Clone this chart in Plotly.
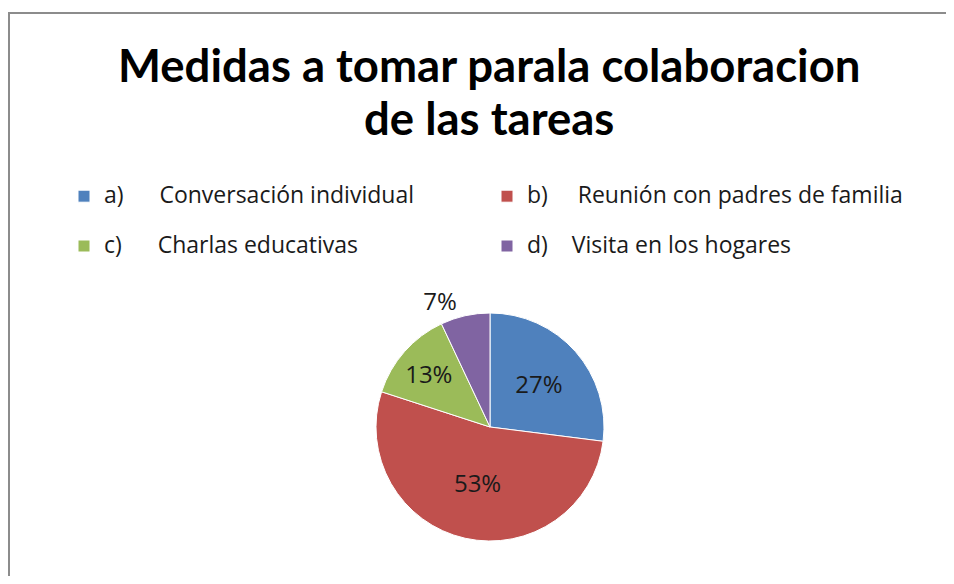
import plotly.graph_objects as go

# data
title_lines = ["Medidas a tomar parala colaboracion", "de las tareas"]
letters = ["a)", "b)", "c)", "d)"]
categories = ["Conversación individual", "Reunión con padres de familia",
              "Charlas educativas", "Visita en los hogares"]
percents = [27, 53, 13, 7]

colors = ["#4F81BD", "#C0504D", "#9BBB59", "#8064A2"]
gaps = [6, 5, 6, 4]  # tab-like spacing between letter and text

# the page body has an 8px margin, so the figure is a bit smaller than the window
OFF = 8
FW, FH = 946, 568
NB = "\u00a0"


def px(x):
    return (x - OFF) / FW


def py(y):
    return 1 - (y - OFF) / FH


labels = [f"<span style='font-size:23px'>{l}{NB * g}{c}</span><br> "
          for l, g, c in zip(letters, gaps, categories)]

# pie centre (490, 427), radius 114 px in window coordinates
cx, cy, r = 490, 427, 114

fig = go.Figure()
fig.add_trace(go.Pie(
    labels=labels,
    values=percents,
    sort=False,
    direction="clockwise",
    rotation=0,
    marker=dict(colors=colors, line=dict(color="white", width=1)),
    texttemplate="%{value}%",
    textposition=["inside", "inside", "inside", "outside"],
    insidetextfont=dict(color="#1a1a1a", size=24, family="Open Sans"),
    outsidetextfont=dict(color="#1a1a1a", size=24, family="Open Sans"),
    hoverinfo="skip",
    domain=dict(x=[px(cx - r), px(cx + r)], y=[py(cy + r), py(cy - r)]),
))

# title, one annotation per line so the line spacing matches
for i, line in enumerate(title_lines):
    fig.add_annotation(
        text=f"<b>{line}</b>",
        x=px(489), y=py(35 + 53 * i), xref="paper", yref="paper",
        xanchor="center", yanchor="top", showarrow=False,
        font=dict(family="Lato", size=45.5, color="black"),
    )

fig.add_shape(type="rect", xref="paper", yref="paper",
              x0=1 / FW, x1=1.05, y0=-0.05, y1=py(13),
              line=dict(color="#8C8C8C", width=2), fillcolor="rgba(0,0,0,0)")

fig.update_layout(
    width=FW, height=FH,
    margin=dict(l=0, r=0, t=0, b=0, autoexpand=False),
    paper_bgcolor="white",
    plot_bgcolor="white",
    showlegend=True,
    legend=dict(
        orientation="h",
        x=px(64), y=py(178), xanchor="left", yanchor="top",
        entrywidth=378, entrywidthmode="pixels",
        valign="top",
        font=dict(family="Open Sans", size=18, color="#1a1a1a"),
        bgcolor="rgba(0,0,0,0)",
        traceorder="normal",
    ),
)

fig.write_html("out.html")
